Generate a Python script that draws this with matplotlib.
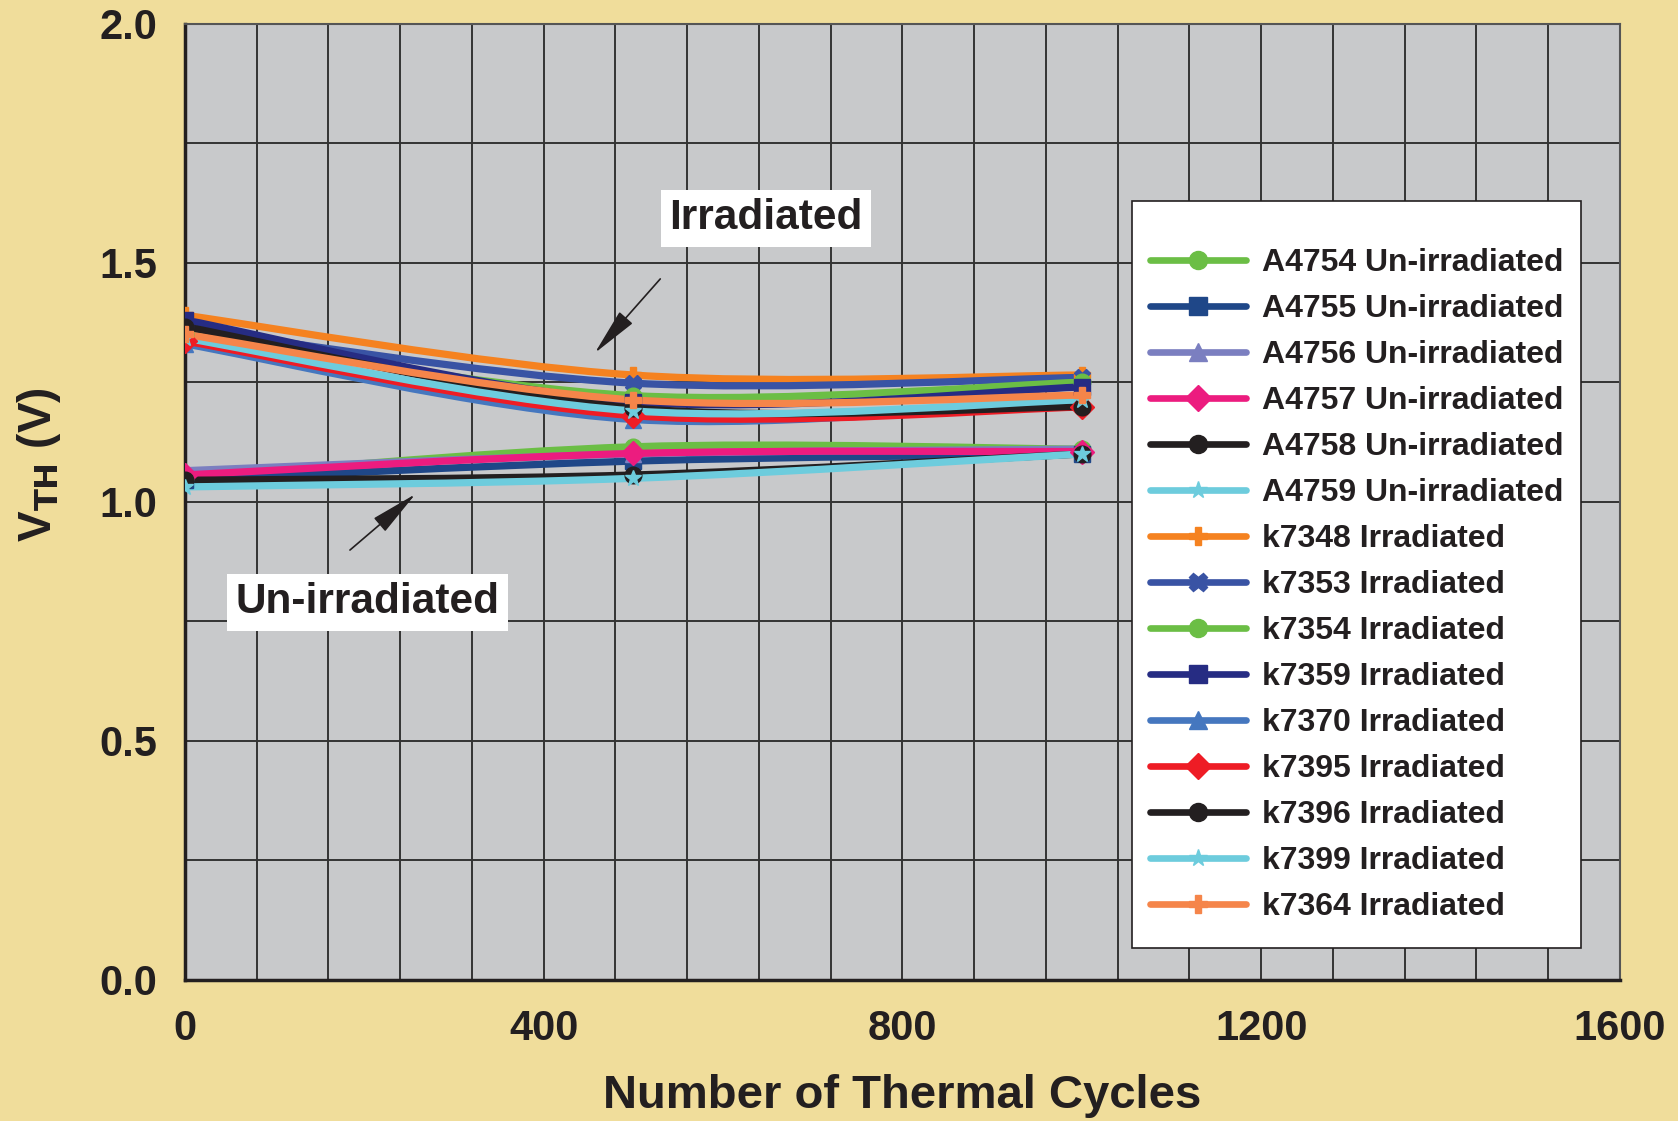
import numpy as np
import matplotlib
matplotlib.use("Agg")
import matplotlib.pyplot as plt
from matplotlib.path import Path
from matplotlib.patches import PathPatch, Rectangle
from matplotlib.lines import Line2D

plt.rcParams['font.family'] = ['Liberation Sans', 'DejaVu Sans']
plt.rcParams['font.weight'] = 'bold'

cycles = [0, 500, 1000]

series_names = [
    "A4754 Un-irradiated", "A4755 Un-irradiated", "A4756 Un-irradiated",
    "A4757 Un-irradiated", "A4758 Un-irradiated", "A4759 Un-irradiated",
    "k7348 Irradiated", "k7353 Irradiated", "k7354 Irradiated",
    "k7359 Irradiated", "k7370 Irradiated", "k7395 Irradiated",
    "k7396 Irradiated", "k7399 Irradiated", "k7364 Irradiated",
]

a4754 = [1.050, 1.115, 1.110]
a4755 = [1.045, 1.085, 1.100]
a4756 = [1.065, 1.100, 1.110]
a4757 = [1.056, 1.101, 1.105]
a4758 = [1.045, 1.056, 1.100]
a4759 = [1.031, 1.049, 1.100]
k7348 = [1.390, 1.265, 1.265]
k7353 = [1.363, 1.248, 1.260]
k7354 = [1.350, 1.222, 1.250]
k7359 = [1.380, 1.209, 1.240]
k7370 = [1.330, 1.172, 1.212]
k7395 = [1.336, 1.180, 1.198]
k7396 = [1.366, 1.196, 1.199]
k7399 = [1.342, 1.190, 1.213]
k7364 = [1.350, 1.213, 1.223]

series_values = [a4754, a4755, a4756, a4757, a4758, a4759,
                 k7348, k7353, k7354, k7359, k7370, k7395, k7396, k7399, k7364]

colors = ["#6BBE45", "#1F4788", "#7B7FC0", "#EC1C7F", "#231F20", "#6DCCDD",
          "#F58220", "#3953A4", "#6BBE45", "#262C83", "#4577BF", "#EE1C25",
          "#231F20", "#6DCCDD", "#F5854A"]
markers = ["o", "s", "^", "D", "o", "*", "P", "X", "o", "s", "^", "D", "o", "*", "P"]

x_ticks = [0, 400, 800, 1200, 1600]
y_ticks = [0.0, 0.5, 1.0, 1.5, 2.0]

BG = "#F0DD9B"
PLOT_BG = "#C8C9CB"
INK = "#231F20"


def smooth_path(xs, ys, tension=1.0 / 6.0):
    """Bezier path through the points, in the style of a smoothed line chart."""
    pts = np.column_stack([xs, ys]).astype(float)
    n = len(pts)
    verts = [pts[0]]
    codes = [Path.MOVETO]
    for i in range(n - 1):
        p_prev = pts[i - 1] if i > 0 else pts[i]
        p0 = pts[i]
        p1 = pts[i + 1]
        p_next = pts[i + 2] if i + 2 < n else pts[i + 1]
        c1 = p0 + (p1 - p_prev) * tension
        c2 = p1 - (p_next - p0) * tension
        verts += [c1, c2, p1]
        codes += [Path.CURVE4] * 3
    return Path(verts, codes)


fig = plt.figure(figsize=(16.78, 11.21), dpi=100, facecolor=BG)
ax = fig.add_axes([0.1102, 0.1258, 0.8552, 0.8532])
ax.set_facecolor(PLOT_BG)

ax.set_xlim(0, 1600)
ax.set_ylim(0, 2.0)
ax.set_xticks(x_ticks)
ax.set_xticks(np.arange(0, 1601, 80), minor=True)
ax.set_yticks(y_ticks)
ax.set_yticks(np.arange(0, 2.01, 0.25), minor=True)
ax.set_xticklabels([str(v) for v in x_ticks])
ax.set_yticklabels([f"{v:.1f}" for v in y_ticks])
ax.grid(True, which="both", color="#333333", linewidth=1.4)
ax.set_axisbelow(True)
ax.tick_params(which="both", length=0)
ax.tick_params(axis="x", labelsize=30, pad=21)
ax.tick_params(axis="y", labelsize=30, pad=20)
for lab in ax.get_xticklabels() + ax.get_yticklabels():
    lab.set_fontweight("bold")
    lab.set_color(INK)

for side in ["top", "right"]:
    ax.spines[side].set_color("#555555")
    ax.spines[side].set_linewidth(1.5)
for side in ["left", "bottom"]:
    ax.spines[side].set_color(INK)
    ax.spines[side].set_linewidth(2.5)

ax.set_xlabel("Number of Thermal Cycles", fontsize=34, fontweight="bold",
              color=INK, labelpad=18)
ax.set_ylabel(r"V$_{\mathbf{TH}}$ (V)", fontsize=33, fontweight="bold",
              color=INK)
ax.yaxis.set_label_coords(-0.085, 0.539)

handles = []
for name, vals, col, mk in zip(series_names, series_values, colors, markers):
    patch = PathPatch(smooth_path(cycles, vals), facecolor="none", edgecolor=col,
                      linewidth=5.2, capstyle="round", joinstyle="round", zorder=3)
    ax.add_patch(patch)
    ax.plot(cycles, vals, linestyle="none", marker=mk, markersize=12,
            color=col, markeredgecolor=col, zorder=4)
    handles.append(Line2D([], [], color=col, linewidth=4.8, marker=mk,
                          markersize=13, solid_capstyle="round"))

# Group labels with pointer arrows
arrow_style = dict(arrowstyle="-|>,head_length=3.0,head_width=0.55",
                   color=INK, lw=1.2, shrinkA=0, shrinkB=0)
ax.annotate("", xy=(457, 1.311), xytext=(530, 1.466), arrowprops=arrow_style)
ax.text(648, 1.593, "Irradiated", fontsize=30.5, fontweight="bold",
        color=INK, ha="center", va="center", zorder=5,
        bbox=dict(boxstyle="square,pad=0.2", facecolor="white", edgecolor="none"))

ax.annotate("", xy=(257, 1.016), xytext=(184, 0.899), arrowprops=arrow_style)
ax.text(204, 0.790, "Un-irradiated", fontsize=30.5, fontweight="bold",
        color=INK, ha="center", va="center", zorder=5,
        bbox=dict(boxstyle="square,pad=0.2", facecolor="white", edgecolor="none"))

# Legend panel: white box with a thin dark border, entries laid on top
ax.add_patch(Rectangle((0.660, 0.0336), 0.313, 0.7804, transform=ax.transAxes,
                       facecolor="white", edgecolor=INK, linewidth=1.2,
                       zorder=6, clip_on=False))
leg = ax.legend(handles=handles, labels=series_names, loc="upper left",
                bbox_to_anchor=(0.6726, 0.765), fontsize=23, frameon=False,
                handlelength=3.0, handletextpad=0.5, labelspacing=0.5,
                borderpad=0.0, borderaxespad=0.0)
leg.set_zorder(7)
for t in leg.get_texts():
    t.set_fontweight("bold")
    t.set_color(INK)

fig.savefig("out.png", dpi=100, facecolor=BG)
